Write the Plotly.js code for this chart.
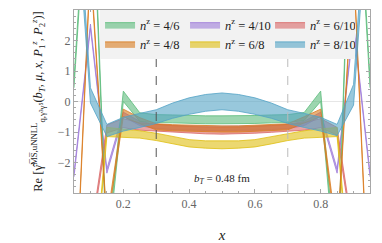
<!DOCTYPE html>
<html><head><meta charset="utf-8">
<script src="https://cdn.plot.ly/plotly-3.0.1.min.js"></script>
<style>html,body{margin:0;padding:0;background:#fff}</style>
</head><body><div id="chart" style="width:382px;height:243px"></div>
<script>
const xVals = [0.05,0.10,0.15,0.20,0.25,0.30,0.35,0.40,0.45,0.50,0.55,0.60,0.65,0.70,0.75,0.80,0.85,0.90,0.95];

const names = ["4/6","4/8","4/10","6/8","6/10","8/10"];

const lo46  = [0.45, 8.8,-5.2, 0.00,-0.65,-0.69,-0.70,-0.72,-0.73,-0.73,-0.73,-0.72,-0.70,-0.69,-0.62, 0.00,-6.2, 9.8, 0.45];
const hi46  = [0.75, 9.2,-4.8, 0.34,-0.37,-0.43,-0.44,-0.46,-0.47,-0.47,-0.47,-0.46,-0.44,-0.43,-0.36, 0.34,-5.8,10.2, 0.75];

const lo48  = [-7.6, 4.4,-4.1,-0.50,-0.73,-0.93,-0.96,-0.98,-1.00,-1.00,-1.00,-0.98,-0.96,-0.93,-0.70,-0.50,-4.6, 4.4,-7.6];
const hi48  = [-7.4, 4.6,-3.9,-0.25,-0.53,-0.73,-0.76,-0.78,-0.80,-0.80,-0.80,-0.78,-0.76,-0.73,-0.50,-0.25,-4.4, 4.6,-7.4];

const lo410 = [-2.47, 2.40,-2.35,-0.49,-0.79,-0.89,-0.92,-0.94,-0.95,-0.95,-0.95,-0.94,-0.92,-0.89,-0.79,-0.49,-2.35, 2.40,-2.47];
const hi410 = [-2.33, 2.54,-2.21,-0.35,-0.65,-0.75,-0.78,-0.80,-0.81,-0.81,-0.81,-0.80,-0.78,-0.75,-0.65,-0.35,-2.21, 2.54,-2.33];

const lo68  = [-9.1,-7.4,-1.15,-1.17,-1.20,-1.28,-1.39,-1.49,-1.53,-1.55,-1.53,-1.49,-1.39,-1.28,-1.20,-1.17,-1.15,-7.4,-9.1];
const hi68  = [-8.9,-7.2,-0.85,-0.90,-0.96,-1.04,-1.15,-1.25,-1.29,-1.30,-1.29,-1.25,-1.15,-1.04,-0.96,-0.90,-0.85,-7.2,-8.9];

const lo610 = [-6.1,-4.6,-1.03,-0.86,-0.94,-0.97,-1.01,-1.04,-1.06,-1.07,-1.06,-1.04,-1.01,-0.97,-0.94,-0.86,-1.10,-4.6,-6.1];
const hi610 = [-5.9,-4.4,-0.77,-0.56,-0.70,-0.75,-0.79,-0.82,-0.84,-0.85,-0.84,-0.82,-0.79,-0.75,-0.70,-0.56,-0.85,-4.4,-5.9];

const lo810 = [7.5,-0.05,-1.15,-0.97,-0.85,-0.72,-0.55,-0.42,-0.32,-0.27,-0.32,-0.42,-0.55,-0.72,-0.85,-0.97,-1.12,-0.12, 7.5];
const hi810 = [8.5, 0.45,-0.75,-0.52,-0.39,-0.27,-0.05, 0.12, 0.23, 0.28, 0.23, 0.12,-0.05,-0.27,-0.39,-0.52,-0.75, 0.56, 8.5];

const xTicks = [0.2,0.4,0.6,0.8];
const yTicks = [-2,-1,0,1,2];
const refLines = [0.3,0.7];
const bTLabel = "<i>b</i><sub><i>T</i></sub> = 0.48 fm";

// drawing order (bottom to top); legendrank sets the legend layout
const series = [
  {name:"4/10", lo:lo410, hi:hi410, rgb:"157,123,217", rank:2},
  {name:"6/10", lo:lo610, hi:hi610, rgb:"217,103,103", rank:3},
  {name:"4/6",  lo:lo46,  hi:hi46,  rgb:"91,187,123",  rank:1},
  {name:"6/8",  lo:lo68,  hi:hi68,  rgb:"223,190,17",  rank:5},
  {name:"4/8",  lo:lo48,  hi:hi48,  rgb:"217,123,30",  rank:4},
  {name:"8/10", lo:lo810, hi:hi810, rgb:"83,163,197",  rank:6}
];

const traces = [];
series.forEach(s => {
  traces.push({x:xVals, y:s.lo, type:'scatter', mode:'lines',
    line:{color:`rgba(${s.rgb},0.8)`, width:1}, showlegend:false, hoverinfo:'skip'});
  traces.push({x:xVals, y:s.hi, type:'scatter', mode:'lines', fill:'tonexty',
    fillcolor:`rgba(${s.rgb},0.6)`, line:{color:`rgba(${s.rgb},0.8)`, width:1},
    name:`<i>n</i><sup>z</sup> = ${s.name}`, legendrank:s.rank, showlegend:true});
});

const serif = "Liberation Serif, DejaVu Serif, serif";
const axisCommon = {
  showline:true, linecolor:'#a8a8a8', linewidth:1, mirror:'allticks',
  ticks:'inside', ticklen:4, tickcolor:'#a8a8a8',
  tickfont:{family:serif, size:12, color:'#666'}, showgrid:false
};

const layout = {
  width:382, height:243,
  margin:{l:74, r:12, t:10, b:50},
  paper_bgcolor:'#fff', plot_bgcolor:'#fff',
  font:{family:serif},
  xaxis:Object.assign({}, axisCommon, {
    range:[0.05,0.95], tickvals:xTicks, ticktext:xTicks.map(v=>v.toFixed(1)),
    minor:{dtick:0.05, tick0:0, ticks:'inside', ticklen:2, tickcolor:'#a8a8a8'},
    zeroline:false,
    title:{text:'<i>x</i>', font:{family:serif, size:15, color:'#222'}, standoff:20}
  }),
  yaxis:Object.assign({}, axisCommon, {
    range:[-3,3], tickvals:yTicks, ticktext:yTicks.map(v=>v<0?'\u2212'+Math.abs(v):String(v)),
    minor:{dtick:0.2, tick0:0, ticks:'inside', ticklen:2, tickcolor:'#a8a8a8'},
    zeroline:true, zerolinecolor:'#e6e6e6', zerolinewidth:1,
    title:{text:'Re [\u03b3\u0302<sup>M\u0305S\u0305,uNNLL</sup><sub>q,\u03b3\u00b3\u03b3\u2075</sub>(<i>b</i><sub><i>T</i></sub>, <i>\u03bc</i>, <i>x</i>, <i>P</i><sub>1</sub><sup><i>z</i></sup>, <i>P</i><sub>2</sub><sup><i>z</i></sup>)]',
      font:{family:serif, size:12.5, color:'#222'}, standoff:12}
  }),
  legend:{orientation:'h', x:0.088, y:1, xanchor:'left', yanchor:'top',
    bgcolor:'#f2f2f2', borderwidth:0, entrywidth:40, entrywidthmode:'pixels',
    font:{family:serif, size:12.5, color:'#222'}, itemwidth:30, traceorder:'normal',
    tracegroupgap:0},
  shapes: refLines.map((v,i)=>({type:'line', xref:'x', yref:'paper', x0:v, x1:v, y0:0, y1:1,
    line:{color: i===0?'#555':'#bbb', width:1, dash:'dash'}, layer:'above'})),
  annotations:[{x:0.5, y:-2.53, xref:'x', yref:'y', text:bTLabel, showarrow:false,
    font:{family:serif, size:11, color:'#222'}}]
};

Plotly.newPlot('chart', traces, layout, {staticPlot:true, displayModeBar:false});
</script>
</body></html>
